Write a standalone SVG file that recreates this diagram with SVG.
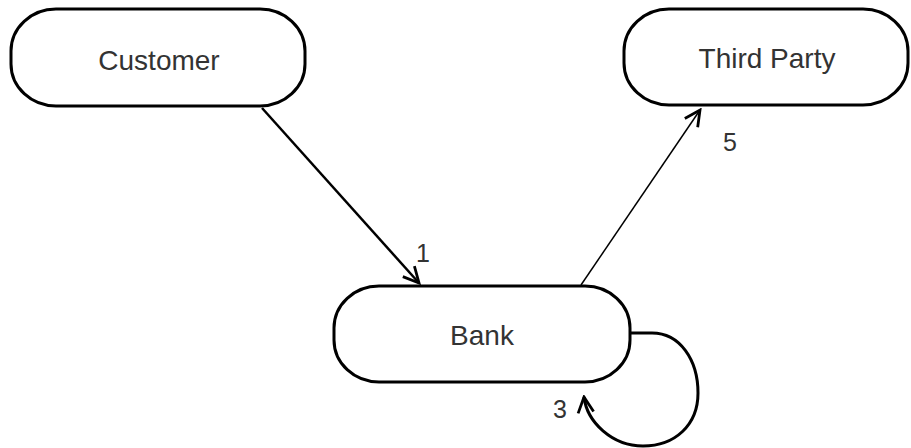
<svg xmlns="http://www.w3.org/2000/svg" width="911" height="448" viewBox="0 0 911 448">
<defs>
<style>
.node{fill:#fff;stroke:#000;stroke-width:3}
.lbl{font-family:"Liberation Sans",Arial,sans-serif;font-size:28px;fill:#333;text-anchor:middle}
.num{font-family:"Liberation Sans",Arial,sans-serif;font-size:25px;fill:#333}
.edge{fill:none;stroke:#000}
</style>
<marker id="arr" markerUnits="userSpaceOnUse" markerWidth="20" markerHeight="20" viewBox="-16 -8 18 16" refX="0" refY="0" orient="auto">
<path d="M-14,-7 L0,0 L-14,7" fill="none" stroke="#000" stroke-width="2.5"/>
</marker>
</defs>
<rect width="911" height="448" fill="#fff"/>
<g id="connectors">
<line class="edge" x1="262" y1="108" x2="419" y2="283" stroke-width="2.5" marker-end="url(#arr)"/>
<line class="edge" x1="581" y1="285" x2="700" y2="110" stroke-width="1.5" marker-end="url(#arr)"/>
<path class="edge" d="M630,333 L652,333 C680,333 698,360 698,393 C698,425 675,446 643,446 C612,446 587,422 584,397" stroke-width="3" marker-end="url(#arr)"/>
<text class="num" x="416" y="262">1</text>
<text class="num" x="723" y="151">5</text>
<text class="num" x="553" y="418">3</text>
</g>
<g id="customer">
<rect class="node" x="11" y="9" width="294" height="97" rx="45" ry="42"/>
<text class="lbl" x="159" y="70">Customer</text>
</g>
<g id="third-party">
<rect class="node" x="624" y="9" width="284" height="96" rx="45" ry="42"/>
<text class="lbl" x="767" y="68">Third Party</text>
</g>
<g id="bank">
<rect class="node" x="334" y="286" width="296" height="96" rx="45" ry="42"/>
<text class="lbl" x="482" y="345">Bank</text>
</g>
</svg>
